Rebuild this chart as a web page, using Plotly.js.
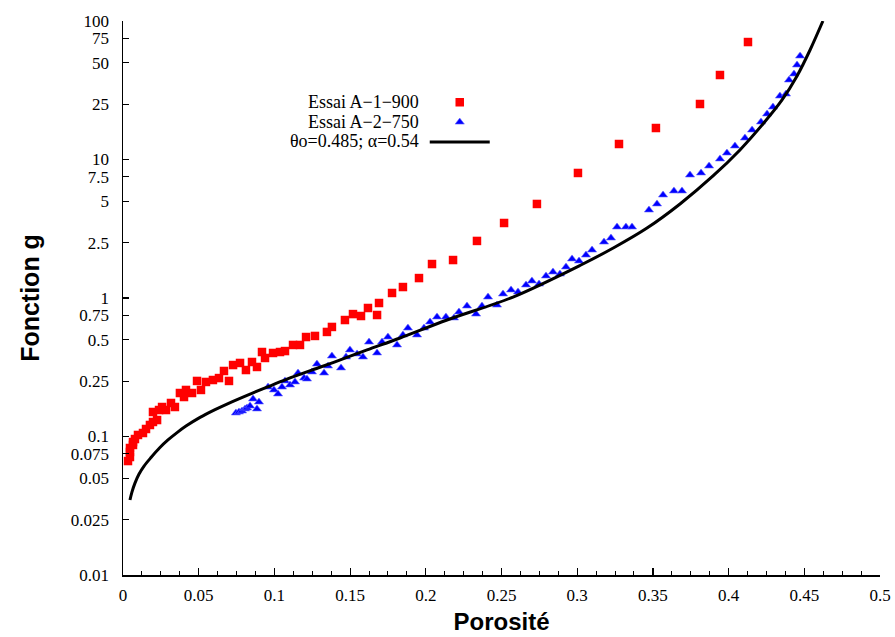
<!DOCTYPE html>
<html><head><meta charset="utf-8">
<script src="https://cdn.plot.ly/plotly-3.0.1.min.js"></script>
<style>html,body{margin:0;padding:0;background:#fff}#chart{width:895px;height:637px}</style>
</head><body><div id="chart"></div>
<script>
// Essai A-1-900 (red squares)
const redX = [0.0033,0.0046,0.0046,0.0046,0.0066,0.0066,0.0079,0.0099,0.0132,0.0152,0.0178,0.0198,0.0225,0.0198,0.0238,0.0258,0.0284,0.0317,0.0343,0.0376,0.0403,0.0416,0.0456,0.0489,0.0515,0.0548,0.0594,0.0634,0.0667,0.0700,0.0727,0.0773,0.0812,0.0852,0.0885,0.0918,0.0938,0.0991,0.1037,0.1070,0.1123,0.1169,0.1209,0.1268,0.1347,0.1380,0.1466,0.1519,0.1572,0.1618,0.1678,0.1691,0.1777,0.1849,0.1955,0.2041,0.2180,0.2338,0.2517,0.2734,0.3005,0.3276,0.3520,0.3811,0.3943,0.4128];
const redY = [0.0665,0.0711,0.0773,0.0826,0.0869,0.0912,0.0959,0.1026,0.1060,0.1133,0.1211,0.1273,0.1315,0.1503,0.1553,0.1633,0.1553,0.1746,0.1633,0.2061,0.1928,0.2168,0.2061,0.2518,0.2168,0.2476,0.2558,0.2642,0.2972,0.2518,0.3281,0.3396,0.3020,0.3451,0.3177,0.4074,0.3689,0.4009,0.4074,0.4140,0.4581,0.4581,0.5227,0.5321,0.5688,0.6180,0.6935,0.7656,0.7413,0.8470,0.7537,0.9203,1.087,1.200,1.393,1.759,1.880,2.582,3.480,4.775,7.994,12.94,16.88,25.16,40.74,70.5];
// Essai A-2-750 (blue triangles)
const blueX = [0.0746,0.0766,0.0786,0.0806,0.0819,0.0839,0.0859,0.0885,0.0898,0.0958,0.0997,0.1024,0.1050,0.1070,0.1103,0.1136,0.1156,0.1196,0.1215,0.1248,0.1281,0.1328,0.1354,0.1380,0.1440,0.1473,0.1499,0.1546,0.1585,0.1625,0.1678,0.1711,0.1750,0.1810,0.1849,0.1882,0.1942,0.1988,0.2028,0.2074,0.2133,0.2186,0.2219,0.2272,0.2332,0.2371,0.2411,0.2470,0.2510,0.2563,0.2609,0.2662,0.2701,0.2748,0.2794,0.2840,0.2886,0.2926,0.2966,0.3012,0.3058,0.3098,0.3177,0.3223,0.3263,0.3322,0.3362,0.3474,0.3527,0.3567,0.3639,0.3692,0.3745,0.3818,0.3871,0.3943,0.3989,0.4042,0.4108,0.4155,0.4214,0.4254,0.4293,0.4339,0.4379,0.4399,0.4432,0.4452,0.4472];
const blueY = [0.1479,0.1503,0.1528,0.1581,0.1607,0.1660,0.1866,0.1581,0.1774,0.2275,0.2168,0.2028,0.2275,0.2518,0.2355,0.2476,0.2871,0.2642,0.2600,0.2924,0.3334,0.2871,0.3228,0.3811,0.3126,0.3750,0.4217,0.3945,0.3750,0.4808,0.4009,0.4808,0.5227,0.4581,0.5408,0.6067,0.5408,0.6067,0.6714,0.7295,0.7295,0.7178,0.7925,0.8750,0.7656,0.8750,1.016,0.8892,1.069,1.143,1.105,1.242,1.327,1.262,1.442,1.541,1.490,1.675,1.914,1.849,2.042,2.221,2.535,2.711,3.256,3.256,3.256,4.319,4.775,5.543,5.926,5.926,7.727,7.994,8.974,10.09,11.14,12.51,14.29,16.33,18.66,21.32,23.93,28.71,29.71,37.50,41.43,48.13,55.87];
// model curve (theta_o = 0.485, alpha = 0.54)
const curveX = [0.0046,0.0059,0.0079,0.0106,0.0139,0.0185,0.0244,0.0297,0.0357,0.0416,0.0509,0.0608,0.0694,0.0859,0.0951,0.1083,0.1301,0.1387,0.1612,0.1830,0.2140,0.2576,0.3018,0.3250,0.3461,0.3679,0.3897,0.4075,0.4227,0.4353,0.4452,0.4538,0.4623];
const curveY = [0.0348,0.0397,0.0461,0.0536,0.0612,0.0705,0.0832,0.0944,0.1067,0.1189,0.1374,0.1563,0.1729,0.2065,0.2270,0.2594,0.3162,0.3420,0.4217,0.5140,0.6935,1.016,1.717,2.335,3.199,4.775,7.603,11.72,18.04,26.90,40.09,61.76,100];

const yTickVals = [0.01,0.025,0.05,0.075,0.1,0.25,0.5,0.75,1,2.5,5,7.5,10,25,50,75,100];
const yTickText = ['0.01','0.025','0.05','0.075','0.1','0.25','0.5','0.75','1','2.5','5','7.5','10','25','50','75','100'];
const xTickVals = [0,0.05,0.1,0.15,0.2,0.25,0.3,0.35,0.4,0.45,0.5];
const xTickText = ['0','0.05','0.1','0.15','0.2','0.25','0.3','0.35','0.4','0.45','0.5'];
const seriesNames = ['Essai A\u22121\u2212900','Essai A\u22122\u2212750','\u03b8o=0.485; \u03b1=0.54'];
const xTitle = 'Porosit\u00e9';
const yTitle = 'Fonction g';

const serif = 'Liberation Serif, Times New Roman, serif';
const sans = 'Liberation Sans, Arial, sans-serif';

const traces = [
  {x: redX, y: redY, mode: 'markers', type: 'scatter', name: ' ',
   marker: {symbol: 'square', size: 8.5, color: '#ff0000'}},
  {x: blueX, y: blueY, mode: 'markers', type: 'scatter', name: ' ',
   marker: {symbol: 'triangle-up', size: 8, color: '#0000ff', line: {width: 0.6, color: '#6a6aff'}}},
  {x: curveX, y: curveY, mode: 'lines', type: 'scatter', name: ' ',
   line: {color: '#000000', width: 3, shape: 'spline', smoothing: 0.9}}
];

const annY = [0.8538, 0.8177, 0.7834];
const layout = {
  width: 895, height: 637,
  margin: {l: 123, r: 15, t: 21, b: 62},
  paper_bgcolor: '#fff', plot_bgcolor: '#fff',
  showlegend: true,
  legend: {x: 0.3986, y: 0.8804, xanchor: 'left', yanchor: 'top', font: {size: 13, family: serif},
           bgcolor: 'rgba(0,0,0,0)', borderwidth: 0, itemwidth: 60, tracegroupgap: 0},
  xaxis: {range: [0, 0.5], tickmode: 'array', tickvals: xTickVals, ticktext: xTickText,
          ticks: 'inside', ticklen: 7, tickwidth: 1.2, tickcolor: '#000',
          showline: true, linecolor: '#000', linewidth: 1.5, showgrid: false, zeroline: false,
          minor: {tickmode: 'linear', tick0: 0, dtick: 0.0125, ticks: 'inside', ticklen: 4, tickwidth: 1, tickcolor: '#000', showgrid: false},
          tickfont: {family: serif, size: 17, color: '#000'}, ticklabelstandoff: 4,
          title: {text: xTitle, font: {family: sans, size: 24, color: '#000', weight: 'bold'}, standoff: 9}},
  yaxis: {type: 'log', range: [-2, 2], tickmode: 'array', tickvals: yTickVals, ticktext: yTickText,
          ticks: 'inside', ticklen: 6, tickwidth: 1.2, tickcolor: '#000',
          showline: true, linecolor: '#000', linewidth: 1.5, showgrid: false, zeroline: false,
          tickfont: {family: serif, size: 17, color: '#000'}, ticklabelstandoff: 9,
          title: {text: yTitle, font: {family: sans, size: 25, color: '#000', weight: 'bold'}, standoff: 24}},
  annotations: seriesNames.map((t, i) => ({
    xref: 'paper', yref: 'paper', x: 0.3937, y: annY[i], xanchor: 'right', yanchor: 'middle',
    text: t, showarrow: false, font: {family: serif, size: 18, color: '#000'}
  }))
};
Plotly.newPlot('chart', traces, layout, {displayModeBar: false, staticPlot: true});
</script></body></html>
